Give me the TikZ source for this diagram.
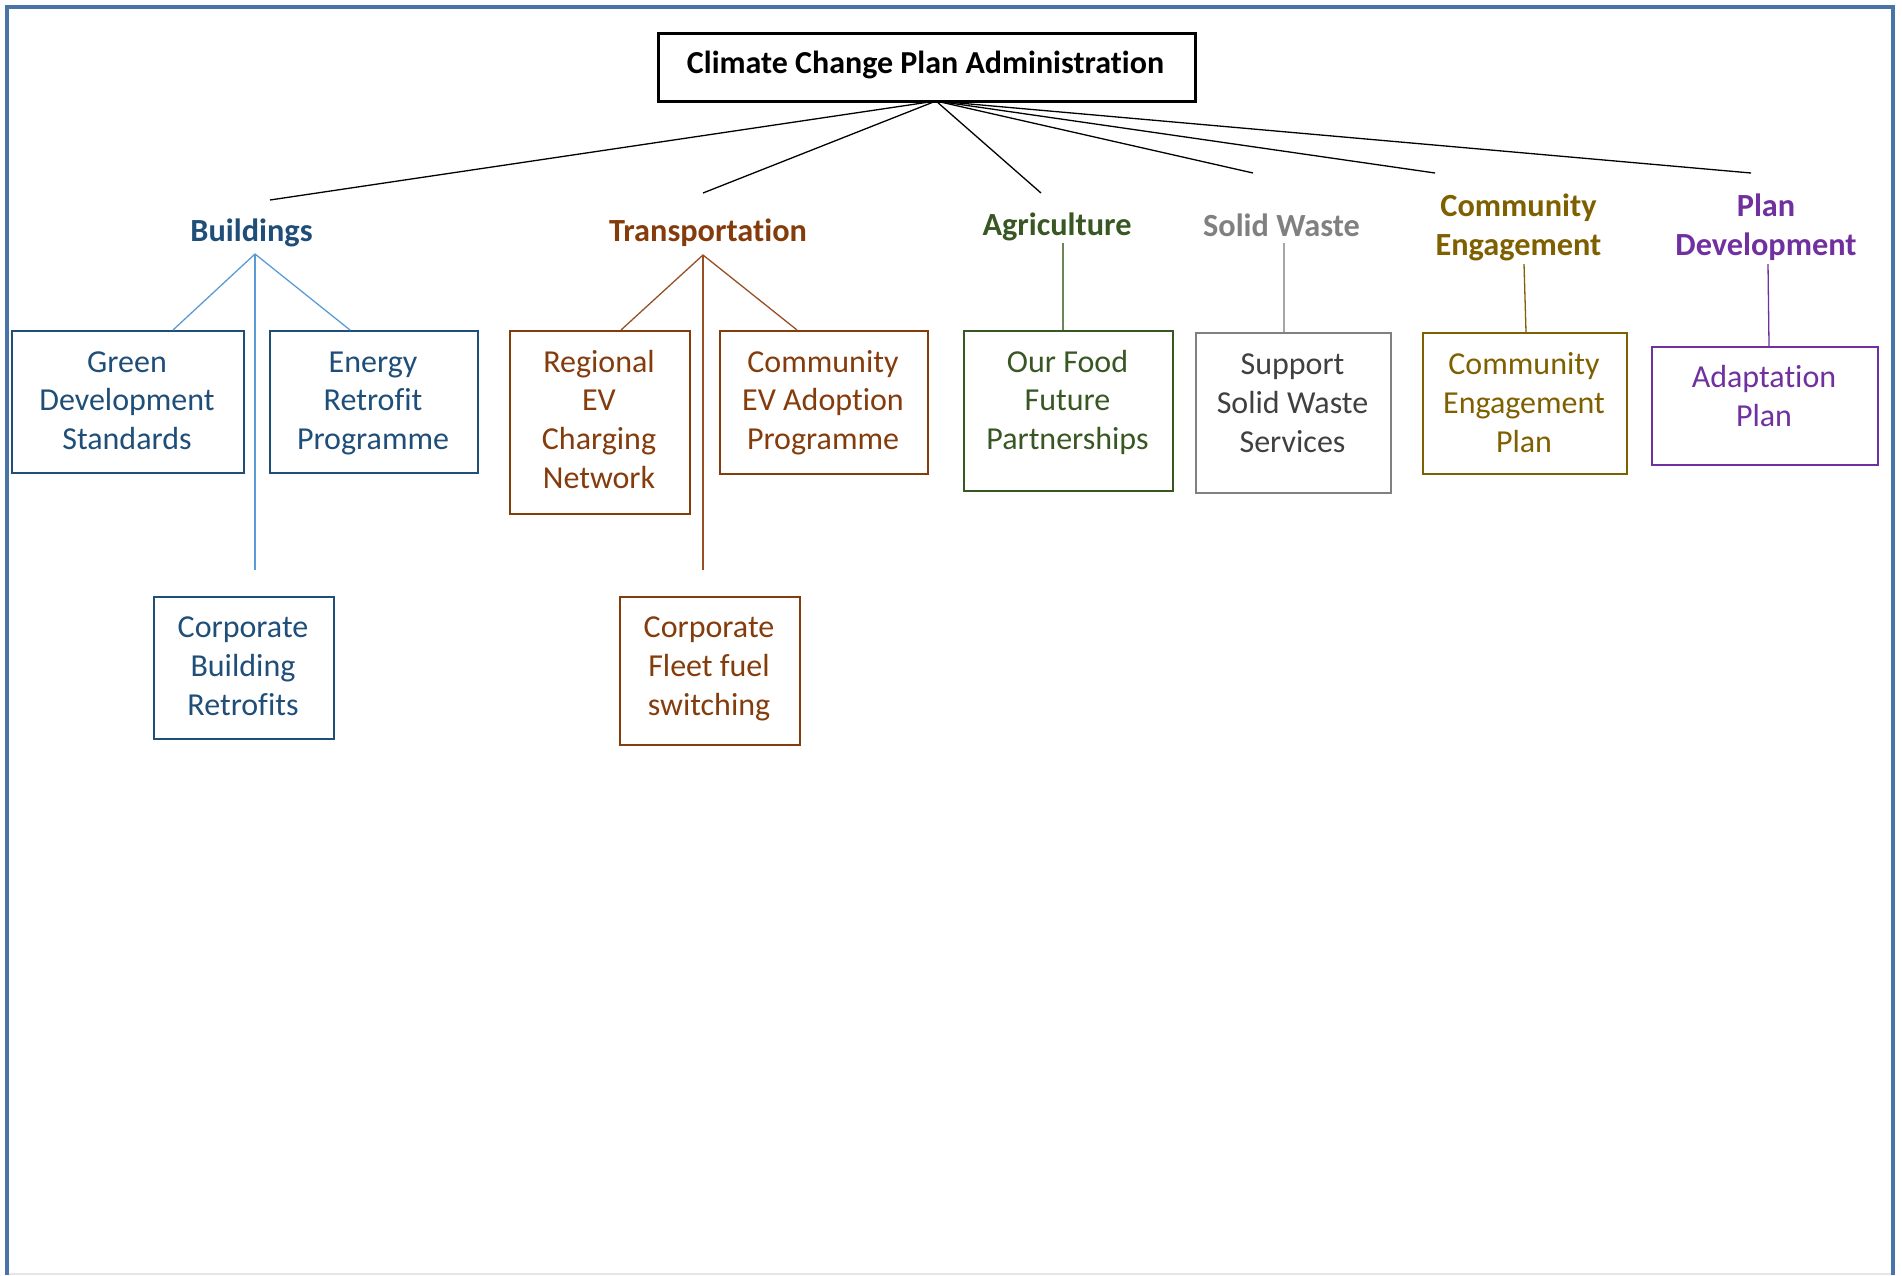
\documentclass[tikz,border=0pt]{standalone}
\usepackage{fontspec}
\setmainfont{Carlito}[Ligatures={NoCommon,NoContextual}]
\definecolor{frameblue}{RGB}{72,116,168}
\definecolor{bldC}{RGB}{31,78,121}
\definecolor{bldL}{RGB}{91,155,213}
\definecolor{trnC}{RGB}{132,60,12}
\definecolor{trnL}{RGB}{150,80,35}
\definecolor{agrC}{RGB}{56,87,35}
\definecolor{agrL}{RGB}{105,135,90}
\definecolor{swH}{RGB}{128,128,128}
\definecolor{swT}{RGB}{64,64,64}
\definecolor{swB}{RGB}{128,128,128}
\definecolor{swL}{RGB}{166,166,166}
\definecolor{ceC}{RGB}{127,96,0}
\definecolor{pdC}{RGB}{112,48,160}
\begin{document}
\begin{tikzpicture}[x=1pt,y=-1pt,
  txt/.style={align=center,inner sep=0pt,font=\fontsize{32}{38.8}\selectfont},
  head/.style={txt,font=\fontsize{32.3}{38.8}\selectfont\bfseries},
  boxn/.style={draw,line width=2pt,inner sep=0pt,anchor=north west},
  link/.style={line width=1.3pt}]
\useasboundingbox (0,0) rectangle (1902,1275);
% frame
\draw[frameblue,line width=4pt] (7,1275) -- (7,6.5) -- (1893,6.5) -- (1893,1275);
\draw[black!10,line width=1.5pt] (9,1274) -- (1891,1274);

% root
\node[draw,line width=2.8pt,minimum width=537pt,minimum height=68pt,anchor=north west,inner sep=0pt] (root) at (657,32) {};
\node[txt,font=\fontsize{32}{38}\selectfont\bfseries] (rootT) at (925.5,64.5) {Climate Change Plan Administration};
\coordinate (apex) at (936,101);

% headers
\node[head,text=bldC] (bld) at (251.5,232.5) {Buildings};
\node[head,text=trnC] (trn) at (708,232.5) {Transportation};
\node[head,text=agrC] (agr) at (1057,226.5) {Agriculture};
\node[head,text=swH] (sw) at (1281.5,225.5) {Solid Waste};
\node[head,text=ceC] (ce) at (1518.5,227) {Community\\Engagement};
\node[head,text=pdC] (pd) at (1766,227) {Plan\\Development};

% top connector ends
\coordinate (bldTop) at (270,200);
\coordinate (trnTop) at (703,193);
\coordinate (agrTop) at (1041,193);
\coordinate (swTop) at (1253,173);
\coordinate (ceTop) at (1435,173);
\coordinate (pdTop) at (1751,173);
\foreach \t in {bldTop,trnTop,agrTop,swTop,ceTop,pdTop}
  \draw[link,black] (apex) -- (\t);

% Buildings boxes
\node[boxn,draw=bldC,minimum width=232pt,minimum height=142pt] (gds) at (11,330) {};
\node[txt,text=bldC] (gdsT) at (127,403.2) {\strut Green\\Development\\Standards\strut};
\node[boxn,draw=bldC,minimum width=208pt,minimum height=142pt] (erp) at (269,330) {};
\node[txt,text=bldC] (erpT) at (373,403.2) {\strut Energy\\Retrofit\\Programme\strut};
\node[boxn,draw=bldC,minimum width=180pt,minimum height=142pt] (cbr) at (153,596) {};
\node[txt,text=bldC] (cbrT) at (243,668.8) {\strut Corporate\\Building\\Retrofits\strut};
\coordinate (bApex) at (255,254);
\coordinate (gdsIn) at (173,330);
\coordinate (erpIn) at (350,330);
\coordinate (bDown) at (255,570);
\draw[link,bldL] (gdsIn) -- (bApex) -- (erpIn);
\draw[link,bldL] (bApex) -- (bDown);

% Transportation boxes
\node[boxn,draw=trnC,minimum width=180pt,minimum height=183pt] (rev) at (509,330) {};
\node[txt,text=trnC] (revT) at (599,422.6) {\strut Regional\\EV\\Charging\\Network\strut};
\node[boxn,draw=trnC,minimum width=208pt,minimum height=143pt] (cev) at (719,330) {};
\node[txt,text=trnC] (cevT) at (823,403.2) {\strut Community\\EV Adoption\\Programme\strut};
\node[boxn,draw=trnC,minimum width=180pt,minimum height=148pt] (cff) at (619,596) {};
\node[txt,text=trnC] (cffT) at (709,668.8) {\strut Corporate\\Fleet fuel\\switching\strut};
\coordinate (tApex) at (703,255);
\coordinate (revIn) at (621,330);
\coordinate (cevIn) at (797,330);
\coordinate (tDown) at (703,570);
\draw[link,trnL] (revIn) -- (tApex) -- (cevIn);
\draw[link,trnL] (tApex) -- (tDown);

% Agriculture
\node[boxn,draw=agrC,minimum width=209pt,minimum height=160pt] (ofp) at (963,330) {};
\node[txt,text=agrC] (ofpT) at (1067.5,403.2) {\strut Our Food\\Future\\Partnerships\strut};
\coordinate (agrDown) at (1063,243);
\draw[link,agrL] (agrDown) -- (agrDown |- ofp.north);

% Solid Waste
\node[boxn,draw=swB,minimum width=195pt,minimum height=160pt] (ssw) at (1195,332) {};
\node[txt,text=swT] (sswT) at (1292.5,405.6) {\strut Support\\Solid Waste\\Services\strut};
\coordinate (swDown) at (1284,243);
\draw[link,swL] (swDown) -- (swDown |- ssw.north);

% Community engagement
\node[boxn,draw=ceC,minimum width=204pt,minimum height=141pt] (cep) at (1422,332) {};
\node[txt,text=ceC] (cepT) at (1524,405.6) {\strut Community\\Engagement\\Plan\strut};
\coordinate (ceDown) at (1524,264);
\coordinate (ceIn) at (1526,332);
\draw[link,ceC] (ceDown) -- (ceIn);

% Plan development
\node[boxn,draw=pdC,minimum width=226pt,minimum height=118pt] (adp) at (1651,346) {};
\node[txt,text=pdC] (adpT) at (1764,399.6) {\strut Adaptation\\Plan\strut};
\coordinate (pdDown) at (1768,264);
\coordinate (pdIn) at (1769,346);
\draw[link,pdC] (pdDown) -- (pdIn);
\end{tikzpicture}
\end{document}
